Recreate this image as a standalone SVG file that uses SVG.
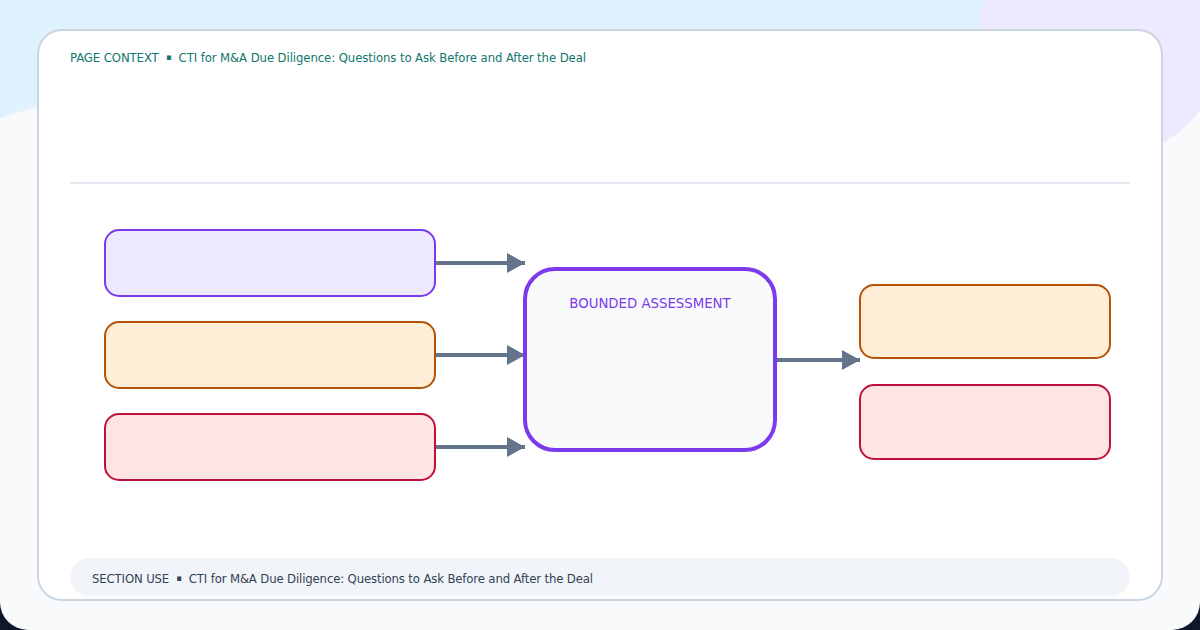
<svg xmlns="http://www.w3.org/2000/svg" width="1200" height="630" viewBox="0 0 1200 630">
<style>
.hdr{font-family:"DejaVu Sans Condensed","DejaVu Sans",sans-serif;font-stretch:condensed;font-size:13px}
.bul{font-size:9px}
.node{stroke-width:2}
.purple{fill:#ede9fe;stroke:#7c3aed}
.orange{fill:#ffedd5;stroke:#b45309}
.red{fill:#ffe4e6;stroke:#be123c}
.conn{stroke:#64748b;stroke-width:4;fill:none}
</style>
<defs>
<marker id="ah" viewBox="0 0 18 20" refX="18" refY="10" markerWidth="4.5" markerHeight="5" markerUnits="strokeWidth" orient="auto">
<path d="M0,0 L18,10 L0,20 Z" fill="#64748b"/>
</marker>
</defs>
<rect x="0" y="0" width="1200" height="630" fill="#0f172a"/>
<rect x="0" y="0" width="1200" height="630" rx="28" fill="#f8fafc"/>
<path d="M0,0 H1000 V40 L40,106 L0,118 Z" fill="#e0f2fe"/>
<circle cx="1102" cy="36" r="123" fill="#ede9fe"/>
<rect x="38" y="30" width="1124" height="570" rx="24" fill="#ffffff" stroke="#cbd5e1" stroke-width="2"/>
<text class="hdr" x="70" y="62" fill="#0f766e" textLength="516" lengthAdjust="spacing" xml:space="preserve">PAGE CONTEXT  <tspan class="bul" baseline-shift="2">▪</tspan>  CTI for M&amp;A Due Diligence: Questions to Ask Before and After the Deal</text>
<line x1="70" y1="183" x2="1130" y2="183" stroke="#e2e8f0" stroke-width="2"/>
<g id="connectors">
<line class="conn" x1="436" y1="263" x2="525" y2="263" marker-end="url(#ah)"/>
<line class="conn" x1="436" y1="355" x2="525" y2="355" marker-end="url(#ah)"/>
<line class="conn" x1="436" y1="447" x2="525" y2="447" marker-end="url(#ah)"/>
<line class="conn" x1="776" y1="360" x2="860" y2="360" marker-end="url(#ah)"/>
</g>
<g id="input-1"><rect class="node purple" x="105" y="230" width="330" height="66" rx="14"/></g>
<g id="input-2"><rect class="node orange" x="105" y="322" width="330" height="66" rx="14"/></g>
<g id="input-3"><rect class="node red" x="105" y="414" width="330" height="66" rx="14"/></g>
<g id="bounded-assessment">
<rect x="525" y="269" width="250" height="181" rx="30" fill="#f8fafc" stroke="#7c3aed" stroke-width="4"/>
<text x="650" y="308" text-anchor="middle" font-family="DejaVu Sans,sans-serif" font-size="13.3" fill="#7c3aed">BOUNDED ASSESSMENT</text>
</g>
<g id="output-1"><rect class="node orange" x="860" y="285" width="250" height="73" rx="14"/></g>
<g id="output-2"><rect class="node red" x="860" y="385" width="250" height="74" rx="14"/></g>
<g id="footer">
<rect x="70" y="558" width="1060" height="38" rx="19" fill="#f1f5f9"/>
<text class="hdr" x="92" y="583" fill="#334155" textLength="501" lengthAdjust="spacing" xml:space="preserve">SECTION USE  <tspan class="bul" baseline-shift="2">▪</tspan>  CTI for M&amp;A Due Diligence: Questions to Ask Before and After the Deal</text>
</g>
</svg>
